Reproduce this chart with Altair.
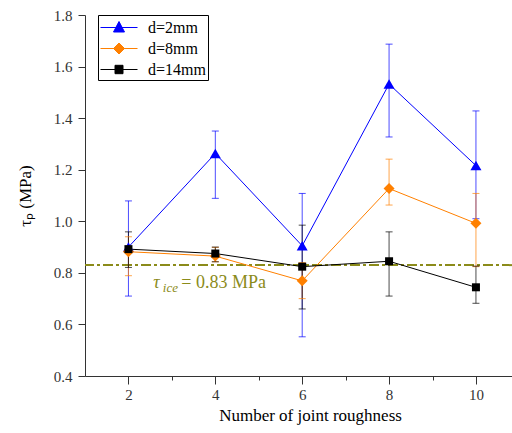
import altair as alt
import pandas as pd

# ---------------- data ----------------
X = [2, 4, 6, 8, 10]
SERIES = ["d=2mm", "d=8mm", "d=14mm"]
COLORS = ["#0000ff", "#ff8000", "#000000"]
SHAPES = ["triangle-up", "diamond", "square"]

Y_D2 = [0.90, 1.263, 0.905, 1.532, 1.216]
LO_D2 = [0.71, 1.089, 0.552, 1.327, 1.01]
HI_D2 = [1.079, 1.35, 1.108, 1.687, 1.428]

Y_D8 = [0.882, 0.865, 0.769, 1.127, 0.992]
LO_D8 = [0.789, 0.843, 0.70, 1.063, 0.824]
HI_D8 = [0.94, 0.899, 0.84, 1.241, 1.108]

Y_D14 = [0.892, 0.875, 0.824, 0.845, 0.744]
LO_D14 = [0.821, 0.843, 0.66, 0.71, 0.682]
HI_D14 = [0.959, 0.90, 0.985, 0.959, 0.826]

TAU_ICE = 0.83

# ---------------- styles ----------------
MARKER_SIZES = [121, 121, 64]
LEGEND_PATHS = [
    "M-1,0H2.7M0.85,-0.6L1.4,0.45L0.3,0.45Z",
    "M-1,0H2.7M0.85,-0.55L1.4,0L0.85,0.55L0.3,0Z",
    "M-1,0H2.7M0.45,-0.42H1.25V0.42H0.45Z",
]
OLIVE = "#8b8b1a"
SERIF = "Liberation Serif"

rows = []
for s, shp, sz, ys, los, his in zip(
    SERIES, SHAPES, MARKER_SIZES,
    [Y_D2, Y_D8, Y_D14], [LO_D2, LO_D8, LO_D14], [HI_D2, HI_D8, HI_D14],
):
    for x, y, lo, hi in zip(X, ys, los, his):
        rows.append({"series": s, "x": x, "y": y, "lo": lo, "hi": hi,
                     "shape": shp, "msize": sz})
df = pd.DataFrame(rows)

x_scale = alt.Scale(domain=[1, 10.83], nice=False, zero=False)
y_scale = alt.Scale(domain=[0.4, 1.8], nice=False, zero=False)
c_scale = alt.Scale(domain=SERIES, range=COLORS)

AX_STYLE = dict(
    grid=False,
    labelFont=SERIF, labelFontSize=15, labelColor="#333333",
    titleFont=SERIF, titleFontSize=17, titleFontWeight="normal", titleColor="#000000",
    domainColor="#333333", tickColor="#333333", domainWidth=1, tickWidth=1,
)

x_axis = alt.Axis(
    values=list(range(2, 11)),
    labelExpr="datum.value % 2 == 0 ? datum.label : ''",
    tickSize={"condition": {"test": "datum.value % 2 == 1", "value": 4}, "value": 8},
    title="Number of joint roughness",
    titleX=225,
    titlePadding=5,
    labelPadding=3,
    **AX_STYLE,
)
y_vals = [round(0.4 + 0.1 * i, 1) for i in range(15)]
y_axis = alt.Axis(
    values=y_vals,
    labelExpr="round(datum.value*10) % 2 == 0 ? format(datum.value, '.1f') : ''",
    tickSize={"condition": {"test": "round(datum.value*10) % 2 == 1", "value": 4}, "value": 7},
    title="τₚ (MPa)",
    titlePadding=19,
    labelPadding=6,
    **AX_STYLE,
)

X_ENC = alt.X("x:Q", scale=x_scale, axis=x_axis)
Y_ENC = alt.Y("y:Q", scale=y_scale, axis=y_axis)
COLOR = alt.Color("series:N", scale=c_scale, title=None)

base = alt.Chart(df)

legend_layer = base.transform_filter("false").mark_point(
    filled=False, opacity=1, strokeWidth=1, size=400
).encode(
    x=X_ENC, y=Y_ENC, color=COLOR,
    fill=alt.Fill("series:N", scale=alt.Scale(domain=SERIES, range=COLORS), title=None),
    shape=alt.Shape("series:N", scale=alt.Scale(domain=SERIES, range=LEGEND_PATHS), title=None),
)

err_rule = base.mark_rule(strokeWidth=1, opacity=0.7).encode(
    x=X_ENC, y=alt.Y("lo:Q", scale=y_scale), y2="hi:Q", color=COLOR
)
err_lo = base.mark_tick(orient="horizontal", size=7, thickness=1, opacity=0.7).encode(
    x=X_ENC, y=alt.Y("lo:Q", scale=y_scale), color=COLOR
)
err_hi = base.mark_tick(orient="horizontal", size=7, thickness=1, opacity=0.7).encode(
    x=X_ENC, y=alt.Y("hi:Q", scale=y_scale), color=COLOR
)

ref_line = alt.Chart(pd.DataFrame({"y": [TAU_ICE]})).mark_rule(
    color=OLIVE, strokeWidth=2, strokeDash=[10, 3, 3, 3]
).encode(y=alt.Y("y:Q", scale=y_scale))

lines = base.mark_line(strokeWidth=1).encode(
    x=X_ENC, y=Y_ENC, color=COLOR, detail="series:N"
)
points = base.mark_point(filled=True, opacity=1).encode(
    x=X_ENC, y=Y_ENC, color=COLOR,
    shape=alt.Shape("shape:N", scale=None),
    size=alt.Size("msize:Q", scale=None),
)

ANN_X, ANN_Y = 2.572, 0.740
ann_df = pd.DataFrame({"x": [ANN_X], "y": [ANN_Y]})
ann_enc = dict(x=alt.X("x:Q", scale=x_scale), y=alt.Y("y:Q", scale=y_scale))
ann_tau = alt.Chart(ann_df).mark_text(
    text="τ", font=SERIF, fontSize=18, fontStyle="italic", color=OLIVE,
    align="left", baseline="alphabetic"
).encode(**ann_enc)
ann_sub = alt.Chart(ann_df).mark_text(
    text="ice", font=SERIF, fontSize=13, fontStyle="italic", color=OLIVE,
    align="left", baseline="alphabetic", dx=9.5, dy=3.5
).encode(**ann_enc)
ann_rest = alt.Chart(ann_df).mark_text(
    text="= 0.83 MPa", font=SERIF, fontSize=18, color=OLIVE,
    align="left", baseline="alphabetic", dx=28
).encode(**ann_enc)

chart = alt.layer(
    legend_layer, ref_line, err_rule, err_lo, err_hi, lines, points,
    ann_tau, ann_sub, ann_rest,
).properties(
    width=427, height=361,
    autosize=alt.AutoSizeParams(type="none"),
    padding={"left": 85, "top": 15, "right": 0, "bottom": 57},
).configure(
    font=SERIF
).configure_view(
    stroke=None
).configure_legend(
    orient="none", legendX=13, legendY=0,
    strokeColor="#000000", strokeWidth=1, fillColor="#ffffff",
    padding=2, rowPadding=2, labelOffset=27,
    labelFont=SERIF, labelFontSize=16, labelColor="#000000",
    symbolSize=400, symbolStrokeWidth=1,
)

chart.save("out.html", embed_options={"renderer": "svg", "actions": False})
